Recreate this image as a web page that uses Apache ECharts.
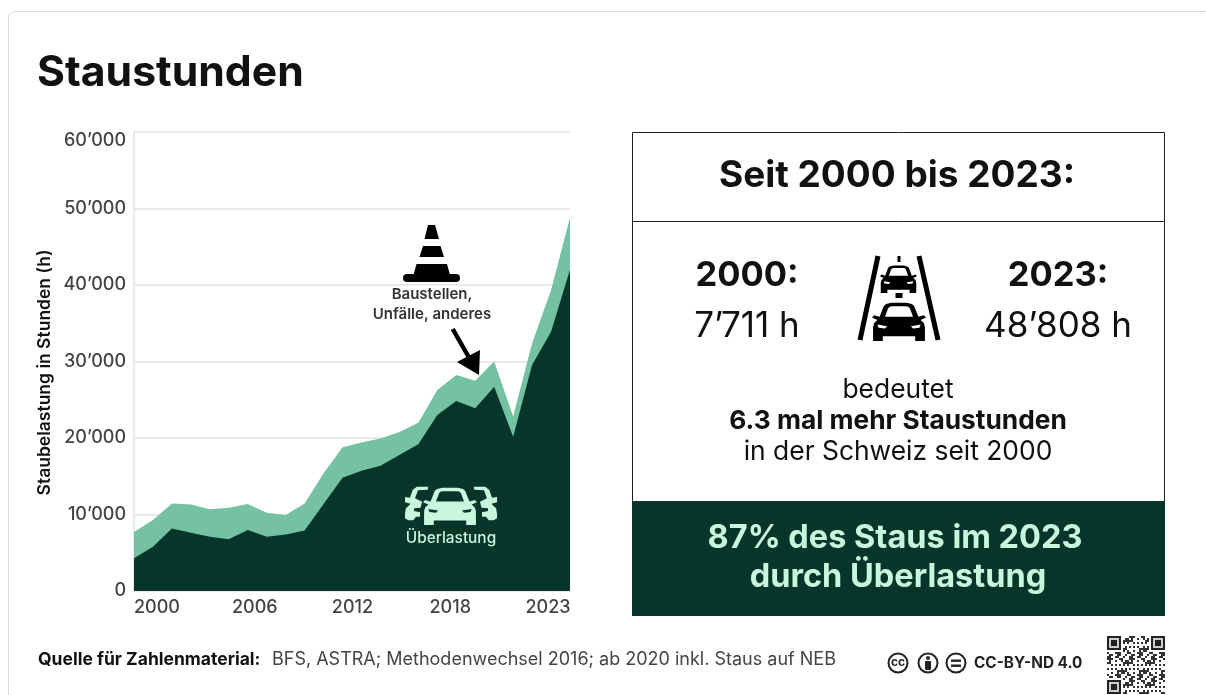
<!DOCTYPE html>
<html>
<head>
<meta charset="utf-8">
<title>Staustunden</title>
<style>
  html, body { margin: 0; padding: 0; background: #fff; }
  #chart { width: 1206px; height: 695px; }
</style>
<script src="https://cdn.jsdelivr.net/npm/echarts@6/dist/echarts.min.js"></script>
</head>
<body>
<div id="chart"></div>
<script>
const years = ['2000', '2001', '2002', '2003', '2004', '2005', '2006', '2007', '2008', '2009', '2010', '2011',
  '2012', '2013', '2014', '2015', '2016', '2017', '2018', '2019', '2020', '2021', '2022', '2023']
const totalHours = [7711, 9270, 11450, 11300, 10670, 10880, 11360, 10230, 9930, 11450, 15400, 18780,
  19400, 19950, 20800, 22000, 26270, 28240, 27500, 30000, 22800, 32400, 39300, 48808]
const overloadHours = [4270, 5790, 8180, 7620, 7100, 6750, 7970, 7100, 7400, 7900, 11370, 14800,
  15730, 16380, 17780, 19170, 23000, 24840, 23880, 26700, 20170, 29540, 33900, 42000]
const yearLabels = ['2000', '2006', '2012', '2018', '2023']

const FONT = 'Inter'
const DARK = '#06352a'
const LIGHT = '#75c2a3'
const MINT = '#c9f7de'
const TEXT = '#111'
const GREY = '#444'

function text(str, x, y, size, weight, fill, align) {
  return {
    type: 'text',
    x,
    y,
    style: { text: str, font: `${weight} ${size}px ${FONT}`, fill, textAlign: align || 'center', textVerticalAlign: 'middle' }
  }
}

function poly(points, fill) {
  return { type: 'polygon', shape: { points }, style: { fill } }
}

// outline given in a 100x100 box, placed at x,y with size w,h
function boxPoly(outline, x, y, w, h, fill, flip) {
  return poly(outline.map(p => [flip ? x + w - p[0] * w / 100 : x + p[0] * w / 100, y + p[1] * h / 100]), fill)
}

const carBody = [[14, 38], [22, 10], [26, 5], [36, 2], [64, 2], [74, 5], [78, 10], [86, 38], [96, 34], [100, 40], [90, 46],
  [96, 54], [98, 64], [98, 100], [80, 100], [80, 88], [20, 88], [20, 100], [2, 100], [2, 64], [4, 54], [10, 46], [0, 40], [4, 34]]
const carWindow = [[24, 38], [30, 16], [33, 12], [38, 11], [62, 11], [67, 12], [70, 16], [76, 38]]
const carLightLeft = [[10, 58], [28, 62], [24, 68], [12, 66]]
const carLightRight = [[90, 58], [72, 62], [76, 68], [88, 66]]
const sideCarOutline = [[127, 0], [64, 0], [42, 10], [27, 33], [0, 31], [0, 47], [31, 51], [5, 65], [0, 80], [0, 95], [18, 101], [45, 101],
  [60, 90], [82, 90], [82, 77], [49, 73], [49, 65], [85, 63], [93, 45], [55, 35], [71, 11], [124, 9]]

// car seen from the front
function car(x, y, w, h, fg, bg) {
  return [
    boxPoly(carBody, x, y, w, h, fg),
    boxPoly(carWindow, x, y, w, h, bg),
    boxPoly(carLightLeft, x, y, w, h, bg),
    boxPoly(carLightRight, x, y, w, h, bg)
  ]
}

// placeholder pattern for the QR code
function qrCode(x, y, cell, n) {
  const cells = []
  const finder = (cx, cy) => {
    cells.push({ type: 'rect', shape: { x: x + cx * cell, y: y + cy * cell, width: 7 * cell, height: 7 * cell }, style: { fill: '#222' } })
    cells.push({ type: 'rect', shape: { x: x + (cx + 1) * cell, y: y + (cy + 1) * cell, width: 5 * cell, height: 5 * cell }, style: { fill: '#ccc' } })
    cells.push({ type: 'rect', shape: { x: x + (cx + 2) * cell, y: y + (cy + 2) * cell, width: 3 * cell, height: 3 * cell }, style: { fill: '#222' } })
  }
  for (let r = 0; r < n; r++) {
    for (let c = 0; c < n; c++) {
      const inFinder = (r < 8 && c < 8) || (r < 8 && c >= n - 8) || (r >= n - 8 && c < 8)
      if (!inFinder && ((r * 7 + c * 13 + r * c * 5) % 11) < 5) {
        cells.push({ type: 'rect', shape: { x: x + c * cell, y: y + r * cell, width: cell, height: cell }, style: { fill: '#333' } })
      }
    }
  }
  finder(0, 0)
  finder(n - 7, 0)
  finder(0, n - 7)
  return cells
}

function ccBadge(cx, cy, inner) {
  return [
    { type: 'circle', shape: { cx, cy, r: 9.5 }, style: { fill: '#fff', stroke: '#222', lineWidth: 2 } }
  ].concat(inner)
}

const elements = [
  text('Staustunden', 37, 73, 42.7, 700, TEXT, 'left'),

  // cone with arrow
  poly([[428, 225], [435, 225], [439, 239], [424.5, 239]], '#000'),
  poly([[423, 246], [440.5, 246], [444, 257], [419.5, 257]], '#000'),
  poly([[416.5, 264], [447, 264], [450, 275], [413.5, 275]], '#000'),
  { type: 'rect', shape: { x: 403, y: 274, width: 57, height: 8, r: 4 }, style: { fill: '#000' } },
  text('Baustellen,', 432, 294, 15, 600, '#333'),
  text('Unfälle, anderes', 432, 314, 15, 600, '#333'),
  { type: 'line', shape: { x1: 452.7, y1: 329, x2: 471, y2: 361 }, style: { stroke: '#000', lineWidth: 4.5 } },
  poly([[480, 350], [457, 362], [479, 375]], '#000'),

  // cars on the dark area
  boxPoly(sideCarOutline, 405, 486.7, 18.3, 33.3, MINT),
  boxPoly(sideCarOutline, 478.7, 486.7, 18.3, 33.3, MINT, true),
  ...car(423, 487, 54, 38, MINT, DARK),
  text('Überlastung', 451, 538, 15.4, 500, MINT),

  // right panel
  { type: 'rect', shape: { x: 632.5, y: 132.5, width: 532, height: 483 }, style: { fill: '#fff', stroke: '#222', lineWidth: 1 } },
  { type: 'line', shape: { x1: 632, y1: 221.5, x2: 1165, y2: 221.5 }, style: { stroke: '#222', lineWidth: 1 } },
  { type: 'rect', shape: { x: 632, y: 501, width: 533, height: 115 }, style: { fill: DARK } },
  text('Seit 2000 bis 2023:', 897, 176, 37, 700, TEXT),
  text('2000:', 747, 276, 34.5, 700, TEXT),
  text('7’711 h', 747, 326, 35, 400, TEXT),
  text('2023:', 1058, 276, 34.5, 700, TEXT),
  text('48’808 h', 1058, 326, 35, 400, TEXT),
  text('bedeutet', 898, 390, 26.4, 400, TEXT),
  text('6.3 mal mehr Staustunden', 898, 421, 26.3, 700, TEXT),
  text('in der Schweiz seit 2000', 898, 452, 26.4, 400, TEXT),
  text('87% des Staus im 2023', 895, 538, 32.5, 700, MINT),
  text('durch Überlastung', 898, 577, 32.5, 700, MINT),

  // road icon
  { type: 'line', shape: { x1: 878, y1: 256, x2: 860, y2: 340 }, style: { stroke: '#000', lineWidth: 5 } },
  { type: 'line', shape: { x1: 919, y1: 256, x2: 938, y2: 340 }, style: { stroke: '#000', lineWidth: 5 } },
  { type: 'rect', shape: { x: 897.5, y: 256, width: 3, height: 6 }, style: { fill: '#000' } },
  { type: 'rect', shape: { x: 895.5, y: 293, width: 7, height: 5 }, style: { fill: '#000' } },
  ...car(880, 265, 37, 28, '#000', '#fff'),
  ...car(872, 302, 54, 39, '#000', '#fff'),

  // footer
  text('Quelle für Zahlenmaterial:', 38, 660, 17.5, 700, TEXT, 'left'),
  text('BFS, ASTRA; Methodenwechsel 2016; ab 2020 inkl. Staus auf NEB', 272, 660, 18, 400, GREY, 'left'),
  ...ccBadge(898, 663, [text('cc', 898, 662, 12, 700, '#222')]),
  ...ccBadge(928, 663, [
    { type: 'circle', shape: { cx: 928, cy: 658, r: 2 }, style: { fill: '#222' } },
    { type: 'rect', shape: { x: 925, y: 661, width: 6, height: 9, r: 1 }, style: { fill: '#222' } }
  ]),
  ...ccBadge(956, 663, [
    { type: 'rect', shape: { x: 951, y: 659.5, width: 10, height: 2.4 }, style: { fill: '#222' } },
    { type: 'rect', shape: { x: 951, y: 664.5, width: 10, height: 2.4 }, style: { fill: '#222' } }
  ]),
  text('CC-BY-ND 4.0', 974, 663, 15.3, 700, '#222', 'left'),
  ...qrCode(1107, 636, 2, 29)
]
elements.forEach(el => { el.z = 10 })
// outer frame of the slide
elements.unshift({ type: 'rect', z: -1, shape: { x: 8.5, y: 11.5, width: 1300, height: 800, r: 6 }, style: { fill: 'none', stroke: '#dcdcdc', lineWidth: 1 } })

const chart = echarts.init(document.getElementById('chart'), null, { renderer: 'canvas' })

chart.setOption({
  animation: false,
  backgroundColor: '#fff',
  grid: [
    { left: 134, right: 636, top: 132, bottom: 104 },
    // only carries the year labels, they sit looser than the data points in the original
    { left: 157, right: 658, top: 132, bottom: 104 }
  ],
  xAxis: [{
    type: 'category',
    data: years,
    boundaryGap: false,
    axisLine: { show: false },
    axisTick: { show: false },
    axisLabel: { show: false }
  }, {
    type: 'category',
    gridIndex: 1,
    data: yearLabels,
    boundaryGap: false,
    axisLine: { show: false },
    axisTick: { show: false },
    axisLabel: { interval: 0, margin: 8, color: GREY, fontFamily: FONT, fontWeight: 500, fontSize: 18 }
  }],
  yAxis: [{
    type: 'value',
    min: 0,
    max: 60000,
    interval: 10000,
    name: 'Staubelastung in Stunden (h)',
    nameLocation: 'middle',
    nameGap: 80,
    nameTextStyle: { color: TEXT, fontFamily: FONT, fontWeight: 600, fontSize: 17.5, padding: [0, 22, 0, 0] },
    axisLine: { show: true, lineStyle: { color: '#e4e4e4', width: 1.5 } },
    axisTick: { show: false },
    axisLabel: {
      margin: 8,
      color: GREY,
      fontFamily: FONT,
      fontWeight: 500,
      fontSize: 18,
      verticalAlignMaxLabel: 'top',
      formatter: v => String(v).replace(/(\d)(\d{3})$/, '$1’$2')
    },
    splitLine: { lineStyle: { color: '#e4e4e4', width: 1.5 } }
  }, {
    type: 'value',
    gridIndex: 1,
    min: 0,
    max: 60000,
    show: false
  }],
  series: [{
    name: 'Baustellen, Unfälle, anderes',
    type: 'line',
    data: totalHours,
    symbol: 'none',
    lineStyle: { width: 0 },
    areaStyle: { color: LIGHT, opacity: 1 },
    z: 3
  }, {
    name: 'Überlastung',
    type: 'line',
    data: overloadHours,
    symbol: 'none',
    lineStyle: { width: 0 },
    areaStyle: { color: DARK, opacity: 1 },
    z: 4
  }],
  graphic: { elements }
})
</script>
</body>
</html>
